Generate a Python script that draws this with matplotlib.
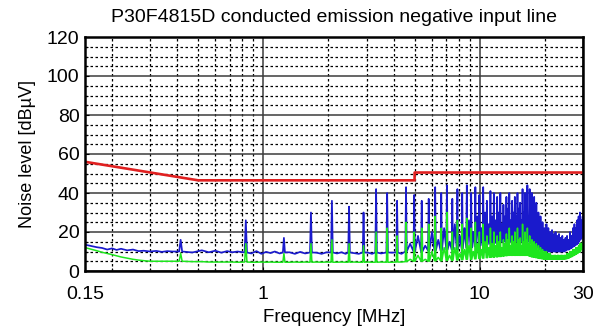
import numpy as np
import matplotlib
matplotlib.use("Agg")
import matplotlib.pyplot as plt
from matplotlib.ticker import FixedLocator, FixedFormatter, NullFormatter

plt.rcParams["font.family"] = ["Liberation Sans", "DejaVu Sans"]

TITLE = "P30F4815D conducted emission negative input line"
XLABEL = "Frequency [MHz]"
YLABEL = "Noise level [dBµV]"

x_tick_values = [0.15, 1, 10, 30]
x_tick_labels = ["0.15", "1", "10", "30"]
y_tick_values = [0, 20, 40, 60, 80, 100, 120]

# limit line (red)
limit_freq = [0.15, 0.5, 5.0, 5.0, 30.0]
limit_level = [56, 46.5, 46.5, 50.5, 50.5]

# noise floor points between spikes: freq, blue level, green level
floor_freq = [0.150, 0.160, 0.170, 0.180, 0.190, 0.200, 0.210, 0.220, 0.235, 0.250,
              0.265, 0.280, 0.300, 0.320, 0.340, 0.360, 0.380,
              0.470, 0.520, 0.560, 0.600, 0.640, 0.680, 0.720, 0.760,
              0.880, 0.930, 0.980, 1.030, 1.080, 1.130, 1.190,
              1.320, 1.400, 1.480, 1.560, 1.760, 1.860, 1.960,
              2.190, 2.300, 2.400, 2.620, 2.760, 3.050, 3.180,
              3.500, 3.930, 4.350]
floor_blue = [13.5, 12.8, 12.2, 11.8, 11.0, 11.6, 10.8, 11.4, 10.6, 11.0,
              10.2, 10.4, 10.0, 10.3, 9.8, 10.2, 10.0,
              9.5, 10.6, 9.6, 10.4, 9.4, 10.2, 9.6, 10.0,
              9.0, 10.2, 8.8, 9.8, 9.2, 10.0, 9.0,
              9.6, 8.8, 9.8, 9.0, 9.4, 8.8, 9.6,
              9.0, 9.6, 8.8, 9.2, 8.8, 9.4, 8.8,
              9.0, 9.4, 8.8]
floor_green = [12.0, 11.2, 10.4, 9.6, 9.0, 8.4, 7.8, 7.2, 6.6, 6.0,
               5.6, 5.3, 5.0, 5.0, 5.0, 5.0, 5.0,
               4.8, 4.8, 4.6, 4.6, 4.6, 4.6, 4.6, 4.5,
               4.5, 4.5, 4.6, 4.5, 4.6, 4.5, 4.5,
               4.5, 4.6, 4.5, 4.6, 4.6, 4.5, 4.6,
               4.5, 4.6, 4.5, 4.6, 4.5, 4.6, 4.5,
               4.6, 4.5, 4.6]

# switching harmonics (MHz) with peak and adjacent floor levels (dBuV)
spike_freq = [0.415, 0.83, 1.245, 1.66, 2.075, 2.49, 2.905, 3.32, 3.735, 4.15,
              4.565, 4.98, 5.395, 5.81, 6.225, 6.64, 7.055, 7.47, 7.885, 8.3,
              8.715, 9.13, 9.545, 9.96, 10.375, 10.79, 11.205, 11.62, 12.035, 12.45,
              12.865, 13.28, 13.695, 14.11, 14.525, 14.94, 15.355, 15.77, 16.185, 16.6,
              17.015, 17.43, 17.845, 18.26, 18.675, 19.09, 19.505, 19.92, 20.335, 20.75,
              21.165, 21.58, 21.995, 22.41, 22.825, 23.24, 23.655, 24.07, 24.485, 24.9,
              25.315, 25.73, 26.145, 26.56, 26.975, 27.39, 27.805, 28.22, 28.635, 29.05,
              29.465, 29.88]
spike_blue = [16, 26, 17, 30, 36, 33, 30, 42, 40, 36,
              43, 39, 36, 37, 43, 40, 44, 37, 42, 40,
              44, 40, 43, 39, 43, 36, 41, 40, 38, 40,
              34, 38, 40, 36, 38, 40, 35, 42, 40, 44,
              42, 40, 38, 35, 30, 28, 25, 22, 24, 22,
              20, 21, 19, 20, 18, 19, 17, 18, 16, 17,
              18, 16, 20, 18, 22, 24, 22, 26, 28, 30,
              26, 28]
spike_blue_floor = [10, 9.5, 9.5, 9.5, 9.5, 9.5, 9.5, 9.5, 9.5, 9.5,
                    10, 10, 10, 10.5, 10.5, 10.5, 11, 11, 11, 11.5,
                    12, 12, 12.5, 13, 13, 13.5, 14, 14, 14.5, 15,
                    15, 15, 15, 15, 15, 15, 15, 15, 15, 15,
                    15, 14, 13, 12, 12, 11, 11, 10.5, 10.5, 10,
                    10, 10, 10, 10, 10, 10, 10, 10, 10, 10.5,
                    11, 11, 11.5, 12, 12.5, 13, 13.5, 14, 15, 16,
                    17, 18]
# level reached midway to the next harmonic (nan = no extra point)
spike_blue_mid = [np.nan] * 10 + [
    14, 18, 13, 20, 16, 22, 15, 24, 18, 22,
    26, 20, 28, 22, 30, 24, 28, 26, 30, 24,
    28, 32, 26, 30, 28, 32, 26, 30, 34, 28,
    30, 26, 24, 22, 20, 19, 18, 17, 18, 16,
    17, 15, 16, 14, 15, 14, 15, 13, 14, 15,
    15, 16, 16, 18, 18, 20, 20, 22, 22, 24, 24, np.nan]
spike_green = [9, 14, 9, 14, 16, 14, 13, 20, 22, 18,
               25, 20, 22, 24, 28, 22, 30, 20, 26, 24,
               27, 22, 25, 20, 24, 18, 22, 20, 18, 20,
               16, 19, 22, 18, 20, 22, 17, 24, 20, 22,
               18, 16, 15, 14, 13, 12, 11, 10, 10, 9,
               9, 8, 8, 8, 8, 8, 8, 8, 8, 8,
               9, 9, 10, 10, 11, 11, 12, 12, 13, 14,
               14, 15]
spike_green_floor = [5, 4.6, 4.5, 4.5, 4.5, 4.5, 4.5, 4.5, 4.5, 4.6,
                     4.8, 5, 5, 5, 5.2, 5.2, 5.4, 5.4, 5.6, 5.8,
                     6, 6, 6.2, 6.4, 6.6, 6.8, 7, 7, 7.2, 7.4,
                     7.6, 7.8, 8, 8, 8, 8, 8, 8, 8, 8,
                     7.6, 7.2, 7, 6.8, 6.6, 6.4, 6.2, 6, 6, 6,
                     6, 6, 6, 6, 6, 6, 6, 6, 6, 6.2,
                     6.4, 6.6, 7, 7.4, 7.8, 8.2, 8.6, 9, 9.6, 10,
                     11, 12]
spike_green_mid = [np.nan] * 10 + [
    6, 8, 6, 10, 7, 12, 8, 12, 9, 11,
    13, 10, 14, 11, 15, 12, 14, 13, 15, 12,
    14, 16, 13, 15, 14, 16, 13, 15, 16, 14,
    13, 12, 11, 10, 9, 9, 8, 8, 8, 8,
    8, 7, 8, 7, 8, 7, 8, 7, 8, 8,
    8, 9, 9, 10, 10, 11, 11, 12, 12, 13, 13, np.nan]


def build_trace(peaks, floors, mids, floor_levels):
    fx = list(floor_freq)
    fy = list(floor_levels)
    n = len(spike_freq)
    for i in range(n):
        f, p, b = spike_freq[i], peaks[i], floors[i]
        w = 0.004 + 0.012 / np.sqrt(f / spike_freq[0])
        fx += [f * (1 - w), f, f * (1 + w)]
        fy += [b, p, b]
        if i + 1 < n and not np.isnan(mids[i]):
            fnext = spike_freq[i + 1]
            fx += [np.sqrt(f * fnext)]
            fy += [mids[i]]
    fx = np.array(fx)
    fy = np.array(fy)
    order = np.argsort(fx)
    return fx[order], fy[order]


fig = plt.figure(figsize=(6.05, 3.31), dpi=100)
ax = fig.add_axes([85 / 605, 60 / 331, (583 - 85) / 605, (271 - 37) / 331])

bx, by = build_trace(spike_blue, spike_blue_floor, spike_blue_mid, floor_blue)
gx, gy = build_trace(spike_green, spike_green_floor, spike_green_mid, floor_green)
ax.plot(bx, by, color="#1a1acc", lw=1.25, zorder=3)
ax.plot(gx, gy, color="#1ee61e", lw=1.1, zorder=4)
ax.plot(limit_freq, limit_level, color="#e02020", lw=1.9, zorder=5)

ax.set_xscale("log")
ax.set_xlim(0.15, 30)
ax.set_ylim(0, 120)

ax.xaxis.set_major_locator(FixedLocator(x_tick_values))
ax.xaxis.set_major_formatter(FixedFormatter(x_tick_labels))
minor_x = [0.2, 0.3, 0.4, 0.5, 0.6, 0.7, 0.8, 0.9, 2, 3, 4, 5, 6, 7, 8, 9, 20]
ax.xaxis.set_minor_locator(FixedLocator(minor_x))
ax.xaxis.set_minor_formatter(NullFormatter())
ax.yaxis.set_major_locator(FixedLocator(y_tick_values))
ax.yaxis.set_minor_locator(FixedLocator([v for v in range(5, 120, 5) if v % 20]))

ax.grid(True, which="major", color="#3c3c3c", lw=1.1, ls="-", zorder=1)
ax.grid(True, which="minor", color="#000000", lw=0.9, ls=(0, (2, 2)), zorder=1)
ax.tick_params(which="both", direction="in", length=3, width=0.8,
               labelsize=14, colors="black")
ax.tick_params(axis="x", which="major", pad=11)
ax.tick_params(axis="y", which="major", pad=4)
ax.tick_params(which="minor", length=2)
for s in ax.spines.values():
    s.set_linewidth(1.8)
    s.set_color("black")
    s.set_zorder(6)

ax.set_title(TITLE, fontsize=14, pad=11)
ax.set_xlabel(XLABEL, fontsize=13.5, labelpad=4)
ax.set_ylabel(YLABEL, fontsize=13, labelpad=8)

fig.savefig("out.png", dpi=100)
